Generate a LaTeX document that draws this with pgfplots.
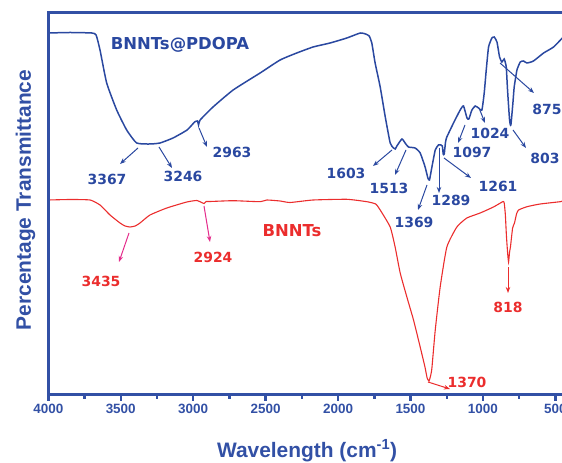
\documentclass[border=0pt]{standalone}
\usepackage{fontspec}
\setmainfont{Liberation Sans}
\newfontfamily\dv{DejaVu Sans}
\usepackage{pgfplots}
\pgfplotsset{compat=1.18}
\usetikzlibrary{arrows.meta,calc}
\definecolor{axblue}{RGB}{50,80,165}
\definecolor{cblue}{RGB}{42,72,160}
\definecolor{cred}{RGB}{235,45,45}
\definecolor{cpink}{RGB}{228,45,140}
\begin{document}
\begin{tikzpicture}
\begin{axis}[name=ax, scale only axis, width=514bp, height=381bp,
  x dir=reverse, xmin=452, xmax=4000, ymin=6, ymax=387, clip=false,
  axis line style={draw=none},
  xtick={500,1000,...,4000},
  tick pos=left, major tick length=0pt,
  ytick=\empty,
  xticklabel style={font=\fontsize{13.5}{14}\selectfont\bfseries, text=axblue, yshift=-7bp},
  /pgf/number format/assume math mode=true, /pgf/number format/1000 sep={},
  xlabel={Wavelength (cm\textsuperscript{-1})}, ylabel={Percentage Transmittance},
  label style={font=\fontsize{21}{24}\selectfont\bfseries, text=axblue},
  xlabel style={at={(axis description cs:0.5035,-0.1654)}, anchor=base},
  ylabel style={at={(axis description cs:-0.0337,0.509)}, anchor=base},
]
% BNNTs@PDOPA
\addplot[cblue, line width=1.5bp, smooth, tension=0.3] coordinates {
(4000,367) (3850,367.5) (3700,367) (3670,365) (3643,350) (3597,317) (3528,290) (3459,270)
(3390,257) (3298,256) (3229,257) (3139,262) (3042,270) (2990,278) (2970,279) (2963,275)
(2952,280) (2863,293) (2724,310) (2538,327) (2400,340) (2285,347) (2172,353) (2055,357)
(1939,362) (1847,367) (1810,366) (1785,364) (1767,357) (1744,337) (1709,313) (1674,283)
(1640,257) (1617,252) (1605,251) (1594,254) (1559,261) (1537,257) (1514,253) (1468,252)
(1433,247) (1399,233) (1380,222) (1369,220) (1352,233) (1329,250) (1307,255) (1290,255)
(1280,254) (1274,246) (1267,246) (1258,258) (1249,263) (1203,277) (1157,290) (1134,294)
(1110,282) (1097,281) (1076,290) (1053,294) (1030,292) (1007,290) (991,307) (977,330)
(961,353) (938,362) (922,363) (903,358) (885,343) (869,338) (853,341) (839,333) (830,310)
(816,280) (807,275) (793,297) (784,313) (765,330) (742,338) (720,339) (696,337) (651,339)
(581,347) (512,353) (452,362)
};
% BNNTs
\addplot[cred, line width=1.1bp, smooth, tension=0.3] coordinates {
(4000,200) (3850,200.5) (3712,200) (3643,195) (3574,185) (3505,177) (3470,174) (3436,173)
(3400,174) (3367,177) (3298,185) (3182,192) (3044,198) (2975,199.5) (2935,197) (2924,196.5)
(2910,198.5) (2883,198.5) (2724,199.3) (2538,198.3) (2492,200) (2400,199) (2331,197.5)
(2172,200) (1939,200.7) (1801,198.3) (1740,196) (1709,190) (1640,173) (1606,153) (1571,127)
(1525,103) (1479,80) (1433,53) (1400,33) (1385,22) (1372,19) (1360,25) (1352,32) (1329,70)
(1295,113) (1249,153) (1180,173) (1111,182) (1019,187) (927,193) (860,198.5) (852,196)
(845,185) (838,165) (830,148) (823,138) (816,148) (810,153) (795,172) (782,177) (768,186)
(754,190) (696,193.3) (605,196) (466,198.3) (452,199)
};
\end{axis}
\draw[axblue, line width=3bp, line join=miter]
  (ax.south east) -- (ax.south west) -- (ax.north west) -- (ax.north east);
\begin{scope}[shift={($(ax.north west)+(-48.3bp,13bp)$)}, x=1bp, y=-1bp,
  ba/.style={cblue, line width=1bp, -{Stealth[length=6bp,width=4.5bp]}},
  ra/.style={cred, line width=1bp, -{Stealth[length=6bp,width=4.5bp]}},
  pa/.style={cpink, line width=1bp, -{Stealth[length=6bp,width=4.5bp]}},
  bl/.style={text=cblue, font=\dv\fontsize{14}{16}\selectfont\bfseries, inner sep=0pt},
  rl/.style={text=cred, font=\dv\fontsize{14}{16}\selectfont\bfseries, inner sep=0pt}]
% tick marks (major every 500, minor every 250)
\foreach \px in {48.3,120.7,193.2,265.6,338.1,410.5,483.0,555.4}
  \draw[axblue, line width=2.4bp] (\px,394) -- (\px,401.5);
\foreach \px in {84.5,157.0,229.4,301.9,374.3,446.7,519.2}
  \draw[axblue, line width=2.4bp] (\px,394) -- (\px,399);
\node[bl, font=\dv\fontsize{16.5}{18}\selectfont\bfseries] at (180,45) {BNNTs@PDOPA};
\draw[ba] (138,148)--(120,164); \node[bl] at (107,179) {3367};
\draw[ba] (159,147)--(172,168); \node[bl] at (183,176) {3246};
\draw[ba] (199,128)--(207,147); \node[bl] at (232,152) {2963};
\draw[ba] (392,150)--(373,166); \node[bl] at (346,173) {1603};
\draw[ba] (406,150)--(395,175); \node[bl] at (389,188) {1513};
\draw[ba] (427,185)--(418,210); \node[bl] at (414,222) {1369};
\draw[ba] (439,148)--(439,193); \node[bl] at (451,200) {1289};
\draw[ba] (444,158)--(471,178); \node[bl] at (498,186) {1261};
\draw[ba] (465,125)--(458,143); \node[bl] at (472,152) {1097};
\draw[ba] (479,108)--(485,123); \node[bl] at (490,133) {1024};
\draw[ba] (500,63)--(534,93);   \node[bl] at (547,109) {875};
\draw[ba] (513,130)--(526,148); \node[bl] at (545,158) {803};
\node[rl, font=\dv\fontsize{16.5}{18}\selectfont\bfseries] at (292,231) {BNNTs};
\draw[pa] (129,233)--(119,262); \node[rl] at (101,281) {3435};
\draw[pa] (204,206)--(210,242); \node[rl] at (213,257) {2924};
\draw[ra] (428,382)--(450,389); \node[rl] at (467,382) {1370};
\draw[ra] (508,267)--(508,293); \node[rl] at (508,307) {818};
\pgfresetboundingbox
\path[use as bounding box] (0,0) rectangle (562,463);
\end{scope}
\end{tikzpicture}
\end{document}
